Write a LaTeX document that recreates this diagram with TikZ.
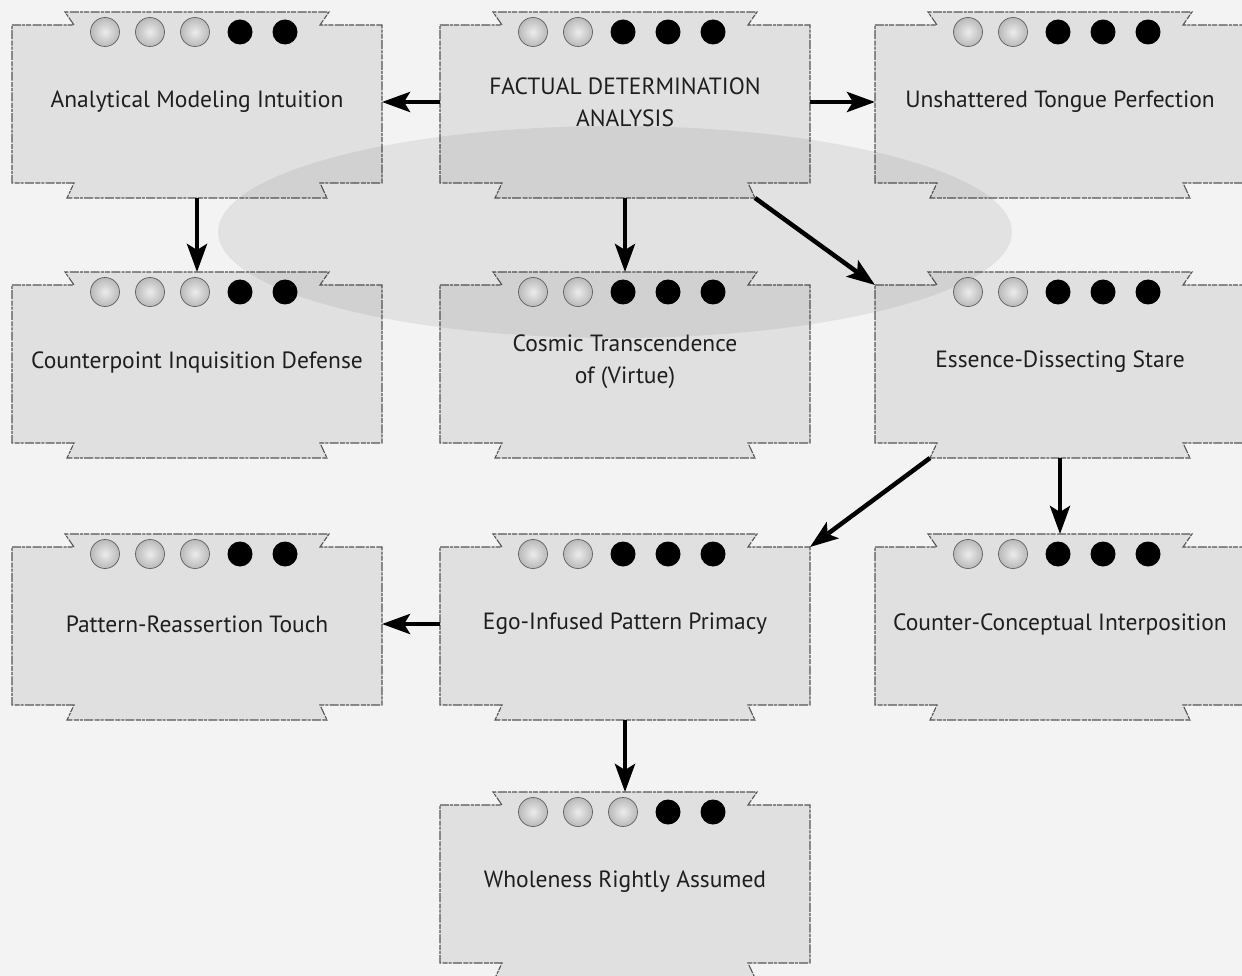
\documentclass[tikz,border=0pt]{standalone}
\usepackage{fontspec}
\setmainfont{PT Sans}
\usetikzlibrary{arrows.meta,calc}
\definecolor{bgc}{HTML}{F3F3F3}
\definecolor{boxc}{HTML}{E0E0E0}
\definecolor{edgec}{HTML}{555555}
\definecolor{txtc}{HTML}{1E1E1E}
\pgfdeclarelayer{boxes}
\pgfdeclarelayer{ell}
\pgfsetlayers{boxes,ell,main}
\tikzset{
 boxbody/.style={minimum width=370pt, minimum height=158pt, inner sep=0pt, outer sep=0pt, align=center, font=\fontsize{23.5}{32}\selectfont, text=txtc},
 boxline/.style={fill=boxc, draw=edgec, line width=1.1pt, dash pattern=on 9pt off 1.2pt on 3pt off 1pt on 5pt off 1.5pt},
 greydot/.style={circle, inner sep=0pt, minimum size=29pt, inner color=white!85!gray, outer color=gray!55, draw=gray!75!black, line width=0.7pt},
 blackdot/.style={circle, inner sep=0pt, minimum size=25pt, fill=black},
 conn/.style={line width=4.5pt, -{Stealth[length=28pt,width=20pt,inset=6pt]}},
}
\newcommand\dbox[5]{%
 \begin{pgfonlayer}{boxes}
 \path[boxline] (#2-185,#3) -- (#2-123,#3) -- (#2-132,#3-13) -- (#2+132,#3-13) -- (#2+123,#3) -- (#2+185,#3) -- (#2+185,#3+158) -- (#2+123,#3+158) -- (#2+130,#3+173) -- (#2-130,#3+173) -- (#2-123,#3+158) -- (#2-185,#3+158) -- cycle;
 \end{pgfonlayer}
 \node[boxbody] (#1) at (#2,#3+77) {#4};
 \coordinate (#1-tt) at (#2,#3-13);
 \coordinate (#1-bt) at (#2,#3+173);
 \coordinate (#1-btl) at (#2-130,#3+173);
 \coordinate (#1-btr) at (#2+130,#3+173);
 \coordinate (#1-tl) at (#2-185,#3);
 \coordinate (#1-tr) at (#2+185,#3);
 \foreach \i/\dx in {1/-92,2/-47,3/-2,4/43,5/88}{
   \ifnum\i>#5\relax
     \node[blackdot] (#1-d\i) at (#2+\dx,#3+7) {};
   \else
     \node[greydot] (#1-d\i) at (#2+\dx,#3+7) {};
   \fi
 }
}
\begin{document}
\begin{tikzpicture}[x=1pt,y=-1pt]
\begin{pgfonlayer}{boxes}
\fill[bgc] (0,0) rectangle (1242,976);
\end{pgfonlayer}
\useasboundingbox (0,0) rectangle (1242,976);
\dbox{am}{197}{25}{Analytical Modeling Intuition}{3}
\dbox{fa}{625}{25}{FACTUAL DETERMINATION\\ANALYSIS}{2}
\dbox{us}{1060}{25}{Unshattered Tongue Perfection}{2}
\dbox{cid}{197}{285}{Counterpoint Inquisition Defense}{3}
\dbox{ctv}{625}{285}{Cosmic Transcendence\\of (Virtue)}{2}
\dbox{eds}{1060}{285}{Essence-Dissecting Stare}{2}
\dbox{prt}{197}{547}{Pattern-Reassertion Touch}{3}
\dbox{eip}{625}{547}{Ego-Infused Pattern Primacy}{2}
\dbox{cci}{1060}{547}{Counter-Conceptual Interposition}{2}
\dbox{wra}{625}{805}{Wholeness Rightly Assumed}{3}
\begin{pgfonlayer}{ell}
\fill[black, fill opacity=0.065] (615,232) ellipse [x radius=397, y radius=106];
\end{pgfonlayer}
\draw[conn] (fa.west) -- (am.east);
\draw[conn] (fa.east) -- (us.west);
\draw[conn] (am-bt) -- (cid-tt);
\draw[conn] (fa-bt) -- (ctv-tt);
\draw[conn] (fa-btr) -- (eds-tl);
\draw[conn] (eds-btl) -- (eip-tr);
\draw[conn] (eds-bt) -- (cci-tt);
\draw[conn] (eip.west) -- (prt.east);
\draw[conn] (eip-bt) -- (wra-tt);
\end{tikzpicture}
\end{document}
